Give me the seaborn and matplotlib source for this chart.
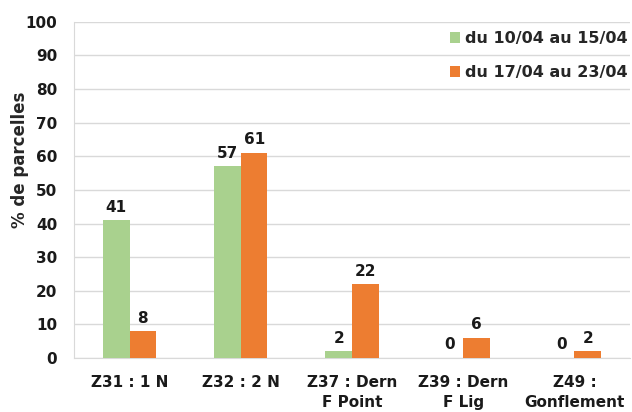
import pandas as pd
import matplotlib
matplotlib.use('Agg')
import matplotlib.pyplot as plt
import seaborn as sns

# Data
categories = ['Z31 : 1 N', 'Z32 : 2 N', 'Z37 : Dern\nF Point', 'Z39 : Dern\nF Lig', 'Z49 :\nGonflement']
series_names = ['du 10/04 au 15/04', 'du 17/04 au 23/04']
values_s1 = [41, 57, 2, 0, 0]
values_s2 = [8, 61, 22, 6, 2]
colors = ['#A9D18E', '#ED7D31']

df = pd.DataFrame({
    'Stade': categories * 2,
    'Periode': [series_names[0]] * len(categories) + [series_names[1]] * len(categories),
    'Pct': values_s1 + values_s2,
})

sns.set_style('white')
plt.rcParams['font.family'] = ['DejaVu Sans']
plt.rcParams['font.weight'] = 'bold'

fig = plt.figure(figsize=(6.32, 4.12), dpi=100)
ax = fig.add_axes([0.117, 0.131, 0.88, 0.816])

sns.barplot(data=df, x='Stade', y='Pct', hue='Periode', palette=colors,
            width=0.48, gap=0, saturation=1, linewidth=0, ax=ax, zorder=3)

for cont in ax.containers:
    ax.bar_label(cont, fmt='%d', padding=4, fontsize=11, fontweight='bold', color='#1a1a1a')

ax.set_ylim(0, 100)
ax.set_yticks(range(0, 101, 10))
ax.yaxis.grid(True, color='#D9D9D9', linewidth=1, zorder=0)
ax.set_axisbelow(True)
for s in ['top', 'right']:
    ax.spines[s].set_visible(False)
for s in ['left', 'bottom']:
    ax.spines[s].set_color('#D9D9D9')
ax.tick_params(axis='both', length=0, labelsize=11, colors='#1a1a1a')
ax.tick_params(axis='y', pad=12)
ax.tick_params(axis='x', pad=12)
for lbl in ax.get_xticklabels():
    lbl.set_fontweight('bold')
    lbl.set_linespacing(1.45)
for lbl in ax.get_yticklabels():
    lbl.set_fontweight('bold')
ax.set_xlabel('')
ax.set_ylabel('% de parcelles', fontsize=12, fontweight='bold')
ax.yaxis.set_label_coords(-0.08, 0.59)

leg = ax.legend(loc='upper right', bbox_to_anchor=(1.01, 0.997), frameon=False,
                fontsize=11.5, handlelength=0.65, handleheight=0.65,
                handletextpad=0.3, labelspacing=1.2, borderaxespad=0.1)
for t in leg.get_texts():
    t.set_fontweight('bold')

fig.savefig('out.png', dpi=100)
